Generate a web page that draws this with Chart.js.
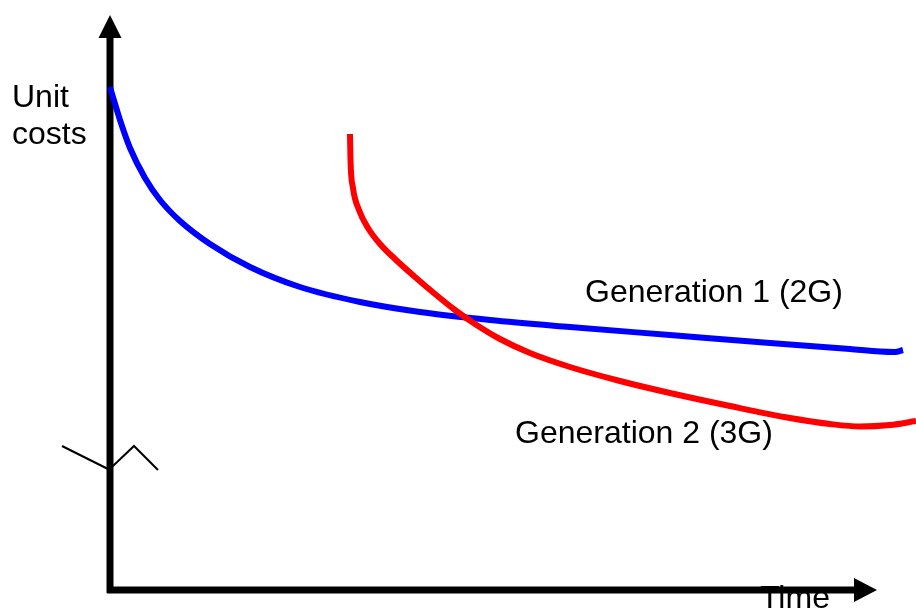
<!DOCTYPE html>
<html>
<head>
<meta charset="utf-8">
<script src="https://cdn.jsdelivr.net/npm/chart.js@4.4.1/dist/chart.umd.min.js"></script>
<style>
  html, body { margin: 0; padding: 0; background: #fff; }
  #wrap { width: 916px; height: 610px; position: relative; }
</style>
</head>
<body>
<div id="wrap"><canvas id="c" width="916" height="610"></canvas></div>
<script>
// ---- data (time units, cost units) ----
const gen1Time = [0, 1, 2, 3.5, 5, 7, 10, 14, 19, 25, 31, 38, 46, 56, 66, 74, 77, 78.5, 79.3];
const gen1Cost = [50.3, 47.0, 44.2, 41.2, 39.0, 36.9, 34.6, 32.3, 30.3, 28.8, 27.8, 27.0, 26.3, 25.5, 24.7, 24.1, 23.85, 23.8, 24.0];
const gen2Time = [24, 24.05, 24.3, 24.9, 25.8, 27, 28.5, 30.5, 32.5, 34.5, 36.5, 39, 42, 46, 51, 56, 62, 68, 72, 75, 78, 80.6];
const gen2Cost = [45.6, 43.0, 40.2, 38.0, 36.2, 34.6, 33.1, 31.3, 29.6, 28.0, 26.6, 25.1, 23.7, 22.3, 20.9, 19.7, 18.4, 17.2, 16.6, 16.35, 16.5, 16.9];
const breakTime = [-4.8, -0.2, 0.3, 2.4, 4.8];
const breakCost = [14.4, 12.1, 12.4, 14.4, 12.0];
const axisCostTop = 57.5;   // arrow tip of cost axis
const axisTimeEnd = 76.7;   // arrow tip of time axis
const labels = [
  { text: 'Unit', t: -9.8, c: 48.3 },
  { text: 'costs', t: -9.8, c: 44.6 },
  { text: 'Generation 1 (2G)', t: 47.5, c: 28.8 },
  { text: 'Generation 2 (3G)', t: 40.5, c: 14.7 },
  { text: 'Time', t: 65, c: -1.8 }
];

const pts = (xs, ys) => xs.map((x, i) => ({ x: x, y: ys[i] }));

const axesPlugin = {
  id: 'axesPlugin',
  beforeDatasetsDraw(chart) {
    const ctx = chart.ctx;
    const xs = chart.scales.x, ys = chart.scales.y;
    const x0 = xs.getPixelForValue(0), y0 = ys.getPixelForValue(0);
    const yTop = ys.getPixelForValue(axisCostTop);
    const xEnd = xs.getPixelForValue(axisTimeEnd);
    ctx.save();
    // text
    ctx.fillStyle = '#000';
    ctx.font = '32px "Liberation Sans", Arial, sans-serif';
    ctx.textBaseline = 'alphabetic';
    ctx.textAlign = 'left';
    labels.forEach(l => ctx.fillText(l.text, xs.getPixelForValue(l.t), ys.getPixelForValue(l.c)));
    // axes
    ctx.strokeStyle = '#000';
    ctx.lineWidth = 7;
    ctx.lineCap = 'butt';
    ctx.beginPath();
    ctx.moveTo(x0, y0 + 3);
    ctx.lineTo(x0, yTop + 22);
    ctx.stroke();
    ctx.beginPath();
    ctx.moveTo(x0 - 3, y0);
    ctx.lineTo(xEnd - 22, y0);
    ctx.stroke();
    // arrowheads
    ctx.beginPath();
    ctx.moveTo(x0, yTop);
    ctx.lineTo(x0 - 11.5, yTop + 23);
    ctx.lineTo(x0 + 11.5, yTop + 23);
    ctx.closePath();
    ctx.fill();
    ctx.beginPath();
    ctx.moveTo(xEnd, y0);
    ctx.lineTo(xEnd - 23, y0 - 12);
    ctx.lineTo(xEnd - 23, y0 + 12);
    ctx.closePath();
    ctx.fill();
    ctx.restore();
  }
};

new Chart(document.getElementById('c'), {
  type: 'scatter',
  data: {
    datasets: [
      { data: pts(breakTime, breakCost), showLine: true, borderColor: '#000', borderWidth: 2, tension: 0, pointRadius: 0 },
      { data: pts(gen2Time, gen2Cost), showLine: true, borderColor: '#ff0000', borderWidth: 6, cubicInterpolationMode: 'monotone', pointRadius: 0 },
      { data: pts(gen1Time, gen1Cost), showLine: true, borderColor: '#0000ff', borderWidth: 6, cubicInterpolationMode: 'monotone', pointRadius: 0 }
    ]
  },
  options: {
    responsive: false,
    animation: false,
    layout: { padding: 0 },
    plugins: { legend: { display: false }, tooltip: { enabled: false } },
    scales: {
      x: { type: 'linear', min: -11, max: 80.6, display: false },
      y: { type: 'linear', min: -2, max: 59, display: false }
    }
  },
  plugins: [axesPlugin]
});
</script>
</body>
</html>
